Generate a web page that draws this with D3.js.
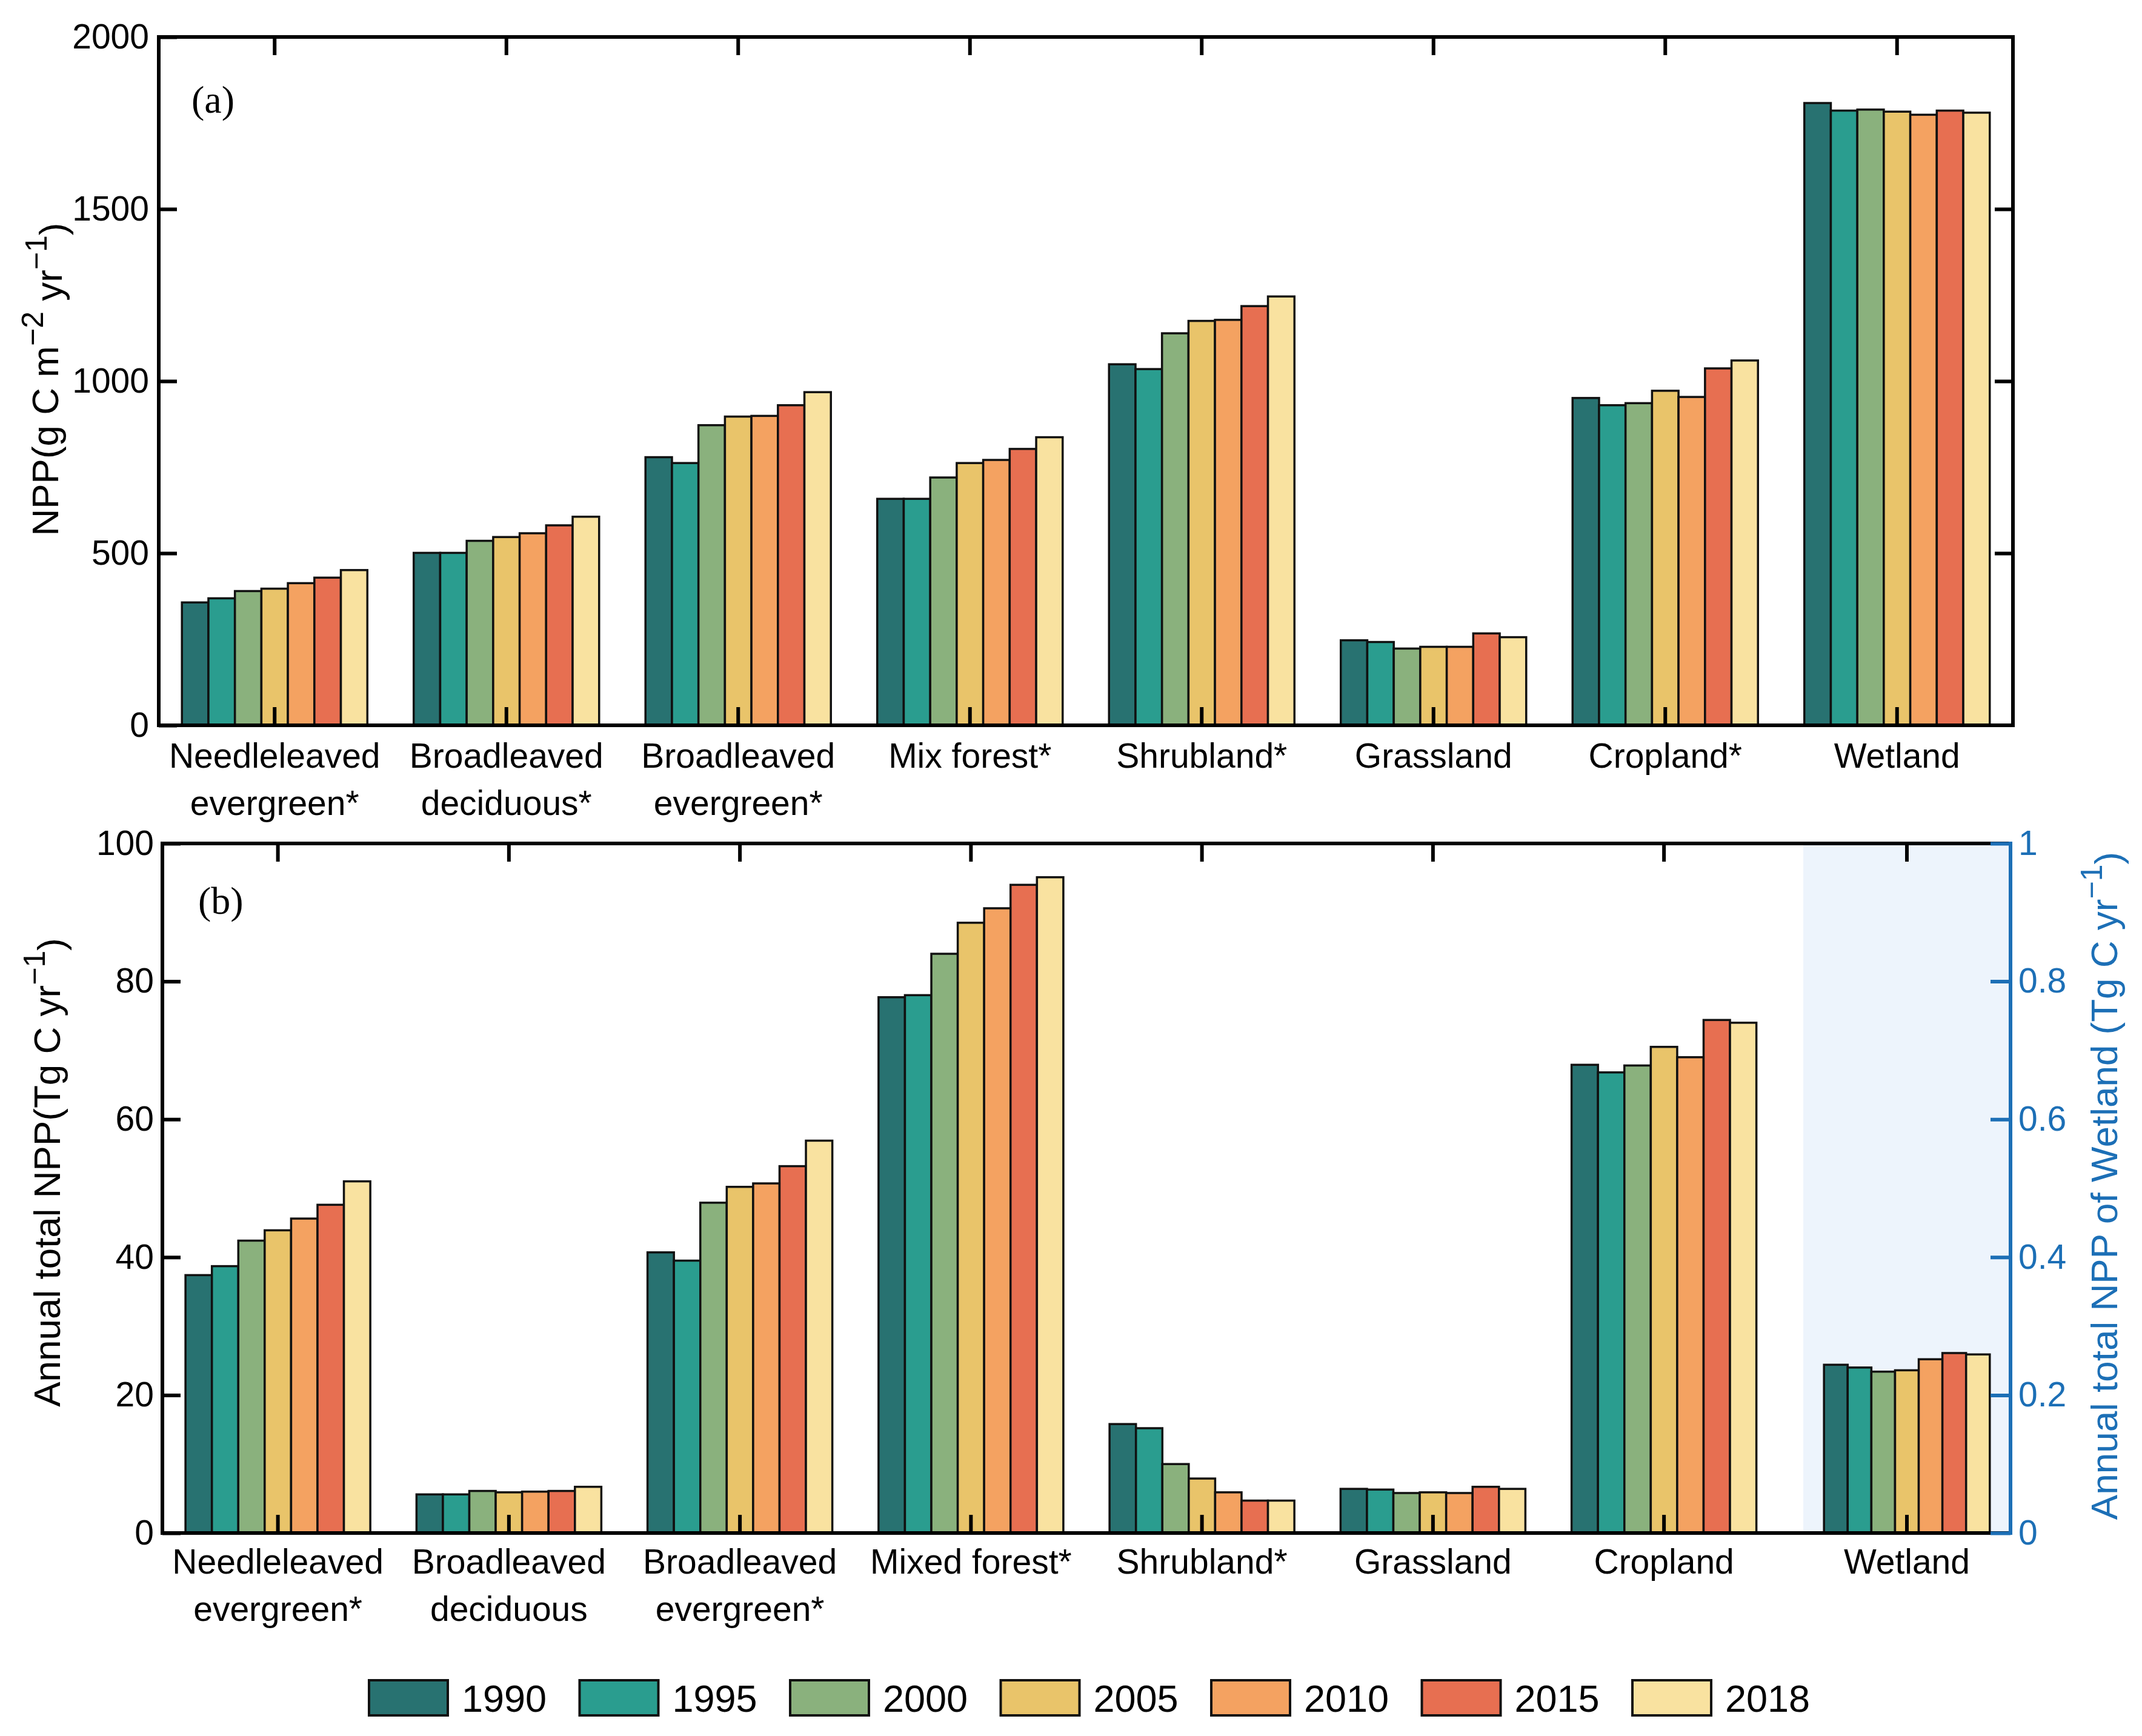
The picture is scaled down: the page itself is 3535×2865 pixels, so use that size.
<!DOCTYPE html>
<html>
<head>
<meta charset="utf-8">
<script src="https://cdn.jsdelivr.net/npm/d3@7"></script>
<style>
  body { margin: 0; background: #fff; }
  svg text { font-family: "Liberation Sans", Arial, sans-serif; fill: #000; }
</style>
</head>
<body>
<div id="chart"></div>
<script>
const years = ["1990", "1995", "2000", "2005", "2010", "2015", "2018"];
const yearColors = ["#287271", "#2a9d8f", "#8ab17d", "#e9c46a", "#f4a261", "#e76f51", "#f9e2a0"];

const categoriesA = [
    "Needleleaved\nevergreen*", "Broadleaved\ndeciduous*", "Broadleaved\nevergreen*", "Mix forest*",
    "Shrubland*", "Grassland", "Cropland*", "Wetland"
];
const categoriesB = [
    "Needleleaved\nevergreen*", "Broadleaved\ndeciduous", "Broadleaved\nevergreen*", "Mixed forest*",
    "Shrubland*", "Grassland", "Cropland", "Wetland"
];

// (a) NPP per unit area, g C m-2 yr-1 (one row per land cover, one value per year)
const nppDensity = [
    [357, 369, 390, 397, 413, 429, 451],
    [501, 501, 536, 547, 558, 581, 606],
    [779, 762, 872, 897, 899, 930, 968],
    [658, 658, 720, 762, 771, 803, 837],
    [1049, 1035, 1139, 1175, 1178, 1218, 1246],
    [247, 242, 223, 228, 228, 267, 256],
    [951, 930, 936, 972, 954, 1037, 1060],
    [1808, 1786, 1789, 1783, 1774, 1786, 1780]
];

// (b) annual total NPP, Tg C yr-1 (wetland drawn on its own right axis)
const nppTotal = [
    [37.4, 38.7, 42.4, 43.9, 45.6, 47.6, 51.0],
    [5.6, 5.6, 6.1, 5.9, 6.0, 6.1, 6.7],
    [40.7, 39.5, 47.9, 50.2, 50.7, 53.2, 56.9],
    [77.7, 78.0, 84.0, 88.5, 90.6, 94.0, 95.1],
    [15.8, 15.2, 10.0, 7.9, 5.9, 4.7, 4.7],
    [6.4, 6.3, 5.8, 5.9, 5.8, 6.7, 6.4],
    [67.9, 66.8, 67.8, 70.5, 69.0, 74.4, 74.0]
];
const wetlandTotal = [0.244, 0.240, 0.234, 0.236, 0.252, 0.261, 0.259];

const ticksA = [0, 500, 1000, 1500, 2000];
const ticksB = [0, 20, 40, 60, 80, 100];
const ticksWet = [0, 0.2, 0.4, 0.6, 0.8, 1];

const W = 3535, H = 2865;
const BLUE = "#1c6fb6";
const TICK = 30;

const svg = d3.select("#chart").append("svg")
    .attr("width", W)
    .attr("height", H)
    .attr("viewBox", `0 0 ${W} ${H}`);

svg.append("rect").attr("width", W).attr("height", H).attr("fill", "#fff");

function drawBars(g, x, y, rows, cats) {
    const inner = d3.scaleBand()
        .domain(years)
        .range([x.bandwidth() * 0.1, x.bandwidth() * 0.9]);

    g.selectAll(".grp")
        .data(rows)
        .join("g")
        .attr("class", "grp")
        .attr("transform", (d, i) => `translate(${x(cats[i])},0)`)
        .selectAll("rect")
        .data(d => d.map((v, j) => ({ year: years[j], value: v })))
        .join("rect")
        .attr("x", d => inner(d.year))
        .attr("y", d => y(d.value))
        .attr("width", inner.bandwidth())
        .attr("height", d => y(0) - y(d.value))
        .attr("fill", (d, j) => yearColors[j])
        .attr("stroke", "#111")
        .attr("stroke-width", 3.5);
}

function styleAxis(g, color) {
    g.select(".domain").remove();
    g.selectAll(".tick line").attr("stroke", color).attr("stroke-width", 6);
    g.selectAll(".tick text")
        .attr("font-size", 57)
        .attr("fill", color)
        .style("fill", color);
}

function categoryLabels(g, x, cats, yBase) {
    cats.forEach(c => {
        const lines = c.split("\n");
        const t = g.append("text")
            .attr("text-anchor", "middle")
            .attr("font-size", 57);
        lines.forEach((ln, k) => {
            t.append("tspan")
                .attr("x", x(c) + x.bandwidth() / 2)
                .attr("y", yBase + k * 78)
                .text(ln);
        });
    });
}

// rotated title with superscripts: parts = [[text, isSup], ...]
function rotatedTitle(x, y, parts, color) {
    const t = svg.append("text")
        .attr("transform", `translate(${x},${y}) rotate(-90)`)
        .attr("text-anchor", "middle")
        .attr("font-size", 62)
        .style("fill", color);
    let up = false;
    parts.forEach(([s, sup]) => {
        const ts = t.append("tspan").text(s);
        if (sup && !up) { ts.attr("dy", "-0.5em").attr("font-size", 50); up = true; }
        else if (!sup && up) { ts.attr("dy", "0.5em"); up = false; }
        else if (sup) ts.attr("font-size", 50);
    });
}

const fmtInt = d3.format("d");

// ---------- panel (a) ----------
const a = { left: 262, right: 3322, top: 61, bottom: 1197 };
const xA = d3.scaleBand().domain(categoriesA).range([a.left, a.right]);
const yA = d3.scaleLinear().domain([0, 2000]).range([a.bottom, a.top]);
const gA = svg.append("g");

drawBars(gA.append("g"), xA, yA, nppDensity, categoriesA);

gA.append("g").attr("transform", `translate(${a.left},0)`)
    .call(d3.axisLeft(yA).tickValues(ticksA).tickFormat(fmtInt).tickSize(-TICK).tickSizeOuter(0).tickPadding(16))
    .call(g => styleAxis(g, "#000"));
gA.append("g").attr("transform", `translate(${a.right},0)`)
    .call(d3.axisRight(yA).tickValues(ticksA.slice(1, -1)).tickSize(-TICK).tickFormat(""))
    .call(g => styleAxis(g, "#000"));
gA.append("g").attr("transform", `translate(0,${a.bottom})`)
    .call(d3.axisBottom(xA).tickSize(-TICK).tickFormat(""))
    .call(g => styleAxis(g, "#000"));
gA.append("g").attr("transform", `translate(0,${a.top})`)
    .call(d3.axisTop(xA).tickSize(-TICK).tickFormat(""))
    .call(g => styleAxis(g, "#000"));
gA.append("rect")
    .attr("x", a.left).attr("y", a.top)
    .attr("width", a.right - a.left).attr("height", a.bottom - a.top)
    .attr("fill", "none").attr("stroke", "#000").attr("stroke-width", 6);

categoryLabels(gA, xA, categoriesA, a.bottom + 70);

svg.append("text").attr("x", 316).attr("y", 186)
    .attr("font-size", 64).style("font-family", "'Liberation Serif', 'Times New Roman', serif")
    .text("(a)");

rotatedTitle(96, 626, [["NPP(g C m", false], ["\u22122", true], [" yr", false], ["\u22121", true], [")", false]], "#000");

// ---------- panel (b) ----------
const b = { left: 268, right: 3318, top: 1392, bottom: 2530, wetLeft: 2976 };
const xB = d3.scaleBand().domain(categoriesB).range([b.left, b.right]);
const yB = d3.scaleLinear().domain([0, 100]).range([b.bottom, b.top]);
const xW = d3.scaleBand().domain(["Wetland"]).range([b.wetLeft, b.right]);
const yW = d3.scaleLinear().domain([0, 1]).range([b.bottom, b.top]);
const gB = svg.append("g");
const mainCats = categoriesB.slice(0, 7);

drawBars(gB.append("g"), xB, yB, nppTotal, mainCats);

gB.append("g").attr("transform", `translate(${b.left},0)`)
    .call(d3.axisLeft(yB).tickValues(ticksB).tickFormat(fmtInt).tickSize(-TICK).tickSizeOuter(0).tickPadding(14))
    .call(g => styleAxis(g, "#000"));
gB.append("g").attr("transform", `translate(0,${b.bottom})`)
    .call(d3.axisBottom(xB).tickValues(mainCats).tickSize(-TICK).tickFormat(""))
    .call(g => styleAxis(g, "#000"));
gB.append("g").attr("transform", `translate(0,${b.top})`)
    .call(d3.axisTop(xB).tickValues(mainCats).tickSize(-TICK).tickFormat(""))
    .call(g => styleAxis(g, "#000"));

// wetland inset axes
gB.append("rect")
    .attr("x", b.wetLeft).attr("y", b.top + 3)
    .attr("width", b.right - b.wetLeft).attr("height", b.bottom - b.top - 6)
    .attr("fill", "#edf4fc");
drawBars(gB.append("g"), xW, yW, [wetlandTotal], ["Wetland"]);
gB.append("g").attr("transform", `translate(0,${b.bottom})`)
    .call(d3.axisBottom(xW).tickSize(-TICK).tickFormat(""))
    .call(g => styleAxis(g, "#000"));
gB.append("g").attr("transform", `translate(0,${b.top})`)
    .call(d3.axisTop(xW).tickSize(-TICK).tickFormat(""))
    .call(g => styleAxis(g, "#000"));

gB.append("path")
    .attr("d", `M${b.right},${b.top}H${b.left}V${b.bottom}H${b.right}`)
    .attr("fill", "none").attr("stroke", "#000").attr("stroke-width", 6);

gB.append("g").attr("transform", `translate(${b.right},0)`)
    .call(d3.axisRight(yW).tickValues(ticksWet).tickSize(-33).tickPadding(13)
        .tickFormat(d => (d === 0 || d === 1) ? String(d) : d.toFixed(1)))
    .call(g => styleAxis(g, BLUE));
gB.append("line")
    .attr("x1", b.right).attr("x2", b.right)
    .attr("y1", b.top - 3).attr("y2", b.bottom + 3)
    .attr("stroke", BLUE).attr("stroke-width", 6);

categoryLabels(gB, xB, mainCats, b.bottom + 67);
categoryLabels(gB, xW, ["Wetland"], b.bottom + 67);

svg.append("text").attr("x", 327).attr("y", 1508)
    .attr("font-size", 64).style("font-family", "'Liberation Serif', 'Times New Roman', serif")
    .text("(b)");

rotatedTitle(99, 1935, [["Annual total NPP(Tg C yr", false], ["\u22121", true], [")", false]], "#000");
rotatedTitle(3494, 1957, [["Annual total NPP of Wetland (Tg C yr", false], ["\u22121", true], [")", false]], BLUE);

// ---------- legend ----------
const legend = svg.append("g").attr("transform", "translate(609,2773)");
const item = legend.selectAll("g")
    .data(years)
    .join("g")
    .attr("transform", (d, i) => `translate(${i * 347.5},0)`);
item.append("rect")
    .attr("width", 130).attr("height", 58)
    .attr("fill", (d, i) => yearColors[i])
    .attr("stroke", "#111").attr("stroke-width", 4);
item.append("text")
    .attr("x", 153).attr("y", 52)
    .attr("font-size", 63)
    .text(d => d);
</script>
</body>
</html>
